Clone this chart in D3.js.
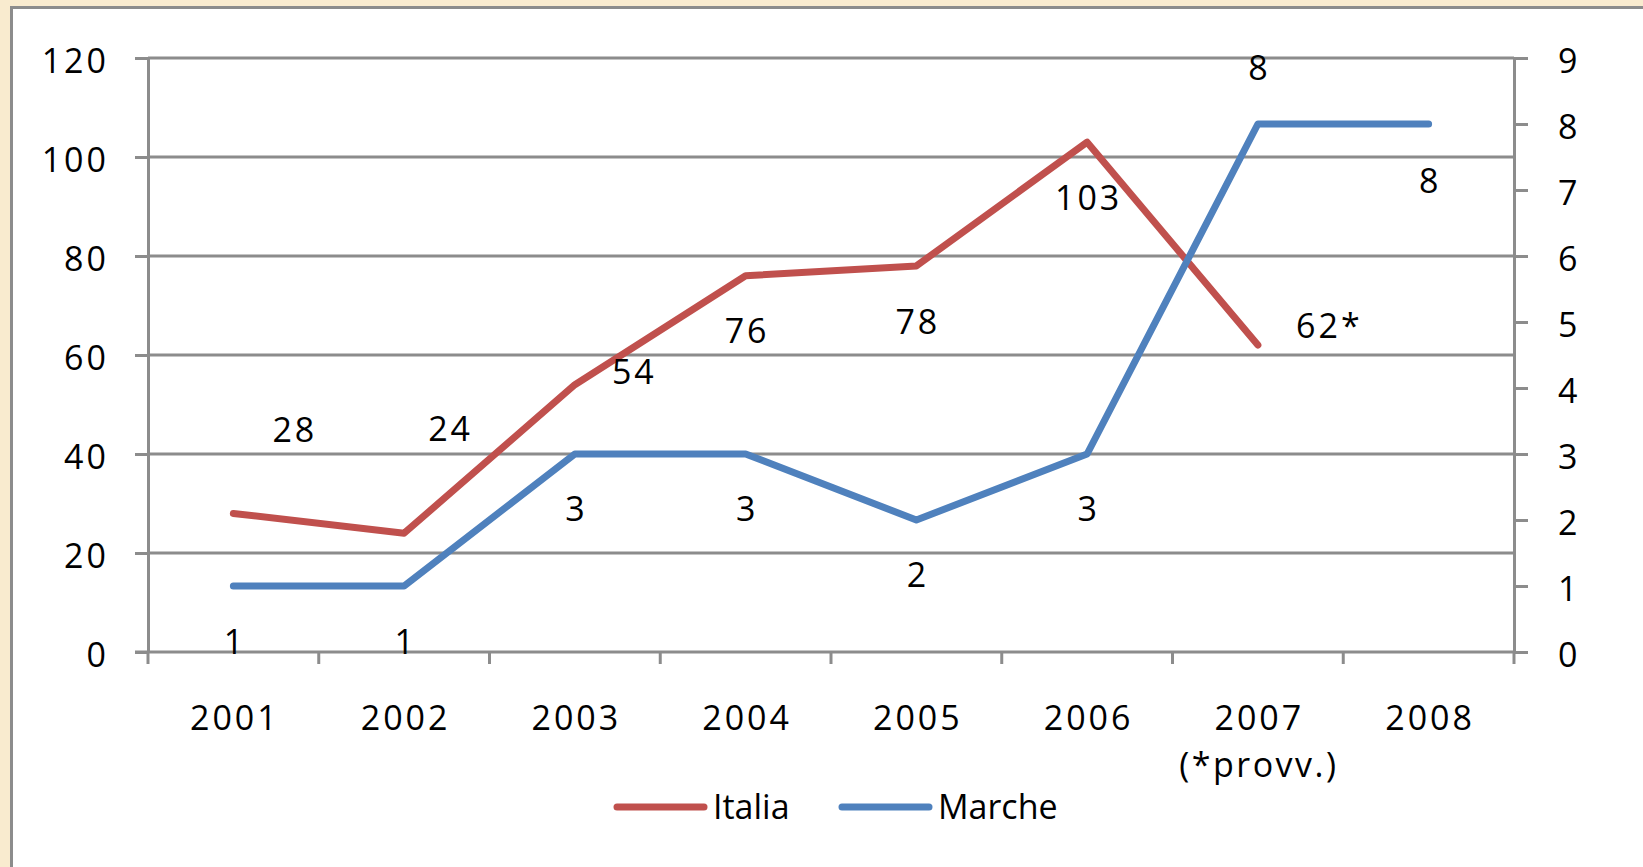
<!DOCTYPE html>
<html>
<head>
<meta charset="utf-8">
<script src="https://cdn.jsdelivr.net/npm/d3@7"></script>
<style>
  html, body { margin: 0; padding: 0; }
  body { background: #f9ebcf; width: 1643px; height: 867px; overflow: hidden; }
  text { font-family: "Open Sans", sans-serif; fill: #000; }
  .num { letter-spacing: 3px; }
</style>
</head>
<body>
<script>
// data
var years = ["2001", "2002", "2003", "2004", "2005", "2006", "2007", "2008"];
var italia = [28, 24, 54, 76, 78, 103, 62, null];
var italiaLabels = ["28", "24", "54", "76", "78", "103", "62*", ""];
var marche = [1, 1, 3, 3, 2, 3, 8, 8];
var marcheLabels = ["1", "1", "3", "3", "2", "3", "8", "8"];
var leftTicks = [0, 20, 40, 60, 80, 100, 120];
var rightTicks = [0, 1, 2, 3, 4, 5, 6, 7, 8, 9];

// label offsets (px, from the point) as placed in the original
var italiaOff = [[60, -83], [45, -104], [58, -13], [0, 55], [0, 56], [0, 56], [70, -19], [0, 0]];
var marcheOff = [[0, 56], [0, 56], [0, 55], [0, 55], [0, 55], [0, 55], [0, -56], [0, 57]];

var width = 1643, height = 867;
var svg = d3.select('body').append('svg').attr('width', width).attr('height', height);

// white chart area with grey frame
svg.append('rect').attr('x', 11.5).attr('y', 7.5).attr('width', 1700).attr('height', 900)
    .attr('fill', '#fff').attr('stroke', '#8c8c8c').attr('stroke-width', 3);

var pLeft = 148, pRight = 1514, pTop = 58, pBottom = 652;

var x = d3.scaleBand().domain(years).range([pLeft, pRight]);
var yL = d3.scaleLinear().domain([0, 120]).range([pBottom, pTop]);
var yR = d3.scaleLinear().domain([0, 9]).range([pBottom, pTop]);

var grey = '#8c8c8c';
var ls = 3; // letter spacing for numbers

// gridlines
svg.append('g').selectAll('line').data(leftTicks.slice(1)).enter().append('line')
    .attr('x1', pLeft).attr('x2', pRight)
    .attr('y1', function (d) { return yL(d); }).attr('y2', function (d) { return yL(d); })
    .attr('stroke', grey).attr('stroke-width', 3);

// left axis
var gl = svg.append('g').attr('transform', 'translate(' + pLeft + ',0)')
    .call(d3.axisLeft(yL).tickValues(leftTicks).tickSize(13).tickSizeOuter(0).tickPadding(26));
// right axis
var gr = svg.append('g').attr('transform', 'translate(' + pRight + ',0)')
    .call(d3.axisRight(yR).tickValues(rightTicks).tickSize(14).tickSizeOuter(0).tickPadding(30));
// bottom axis with ticks between categories
var boundaries = d3.range(years.length + 1).map(function (i) { return pLeft + i * x.bandwidth(); });
var gb = svg.append('g').attr('transform', 'translate(0,' + pBottom + ')');
gb.append('line').attr('x1', pLeft - 13).attr('x2', pRight).attr('y1', 0).attr('y2', 0)
    .attr('stroke', grey).attr('stroke-width', 3);
gb.selectAll('.tk').data(boundaries).enter().append('line')
    .attr('x1', function (d) { return d; }).attr('x2', function (d) { return d; })
    .attr('y1', 0).attr('y2', 12).attr('stroke', grey).attr('stroke-width', 3);
gb.selectAll('.lab').data(years).enter().append('text')
    .attr('class', 'num')
    .attr('x', function (d) { return x(d) + x.bandwidth() / 2 + ls / 2; })
    .attr('y', 78).attr('text-anchor', 'middle').style('font-size', '34px')
    .text(function (d) { return d; });
gb.append('text').attr('class', 'num').style('letter-spacing', '2.5px')
    .attr('x', x('2007') + x.bandwidth() / 2 + 1).attr('y', 125)
    .attr('text-anchor', 'middle').style('font-size', '34px').text('(*provv.)');

[gl, gr].forEach(function (g) {
    g.select('.domain').attr('stroke', grey).attr('stroke-width', 3);
    g.selectAll('.tick line').attr('stroke', grey).attr('stroke-width', 3);
    g.selectAll('.tick text').attr('class', 'num').style('font-size', '34px').attr('fill', '#000')
        .attr('dy', '0.42em').style('font-family', '"Open Sans", sans-serif');
});

var cx = function (i) { return x(years[i]) + x.bandwidth() / 2; };

var lineL = d3.line().defined(function (d) { return d != null; })
    .x(function (d, i) { return cx(i); }).y(function (d) { return yL(d); });
var lineR = d3.line().x(function (d, i) { return cx(i); }).y(function (d) { return yR(d); });

svg.append('path').attr('d', lineL(italia)).attr('fill', 'none')
    .attr('stroke', '#c0504d').attr('stroke-width', 7)
    .attr('stroke-linecap', 'round').attr('stroke-linejoin', 'round');
svg.append('path').attr('d', lineR(marche)).attr('fill', 'none')
    .attr('stroke', '#4f81bd').attr('stroke-width', 7)
    .attr('stroke-linecap', 'round').attr('stroke-linejoin', 'round');

// data labels
svg.append('g').selectAll('text').data(italia).enter().append('text')
    .filter(function (d) { return d != null; })
    .attr('class', 'num')
    .attr('x', function (d, i) { return cx(i) + italiaOff[i][0] + ls / 2; })
    .attr('y', function (d, i) { return yL(d) + italiaOff[i][1] + 12; })
    .attr('text-anchor', 'middle').style('font-size', '34px')
    .text(function (d, i) { return italiaLabels[i]; });
svg.append('g').selectAll('text').data(marche).enter().append('text')
    .attr('class', 'num')
    .attr('x', function (d, i) { return cx(i) + marcheOff[i][0] + ls / 2; })
    .attr('y', function (d, i) { return yR(d) + marcheOff[i][1] + 12; })
    .attr('text-anchor', 'middle').style('font-size', '34px')
    .text(function (d, i) { return marcheLabels[i]; });

// legend
var legend = [{ name: 'Italia', color: '#c0504d', x: 617 }, { name: 'Marche', color: '#4f81bd', x: 842 }];
var lg = svg.append('g').selectAll('g').data(legend).enter().append('g')
    .attr('transform', function (d) { return 'translate(' + d.x + ',807)'; });
lg.append('line').attr('x1', 0).attr('x2', 87).attr('stroke', function (d) { return d.color; })
    .attr('stroke-width', 7).attr('stroke-linecap', 'round');
lg.append('text').attr('x', 96).attr('y', 12).style('font-size', '34px')
    .text(function (d) { return d.name; });
</script>
</body>
</html>
